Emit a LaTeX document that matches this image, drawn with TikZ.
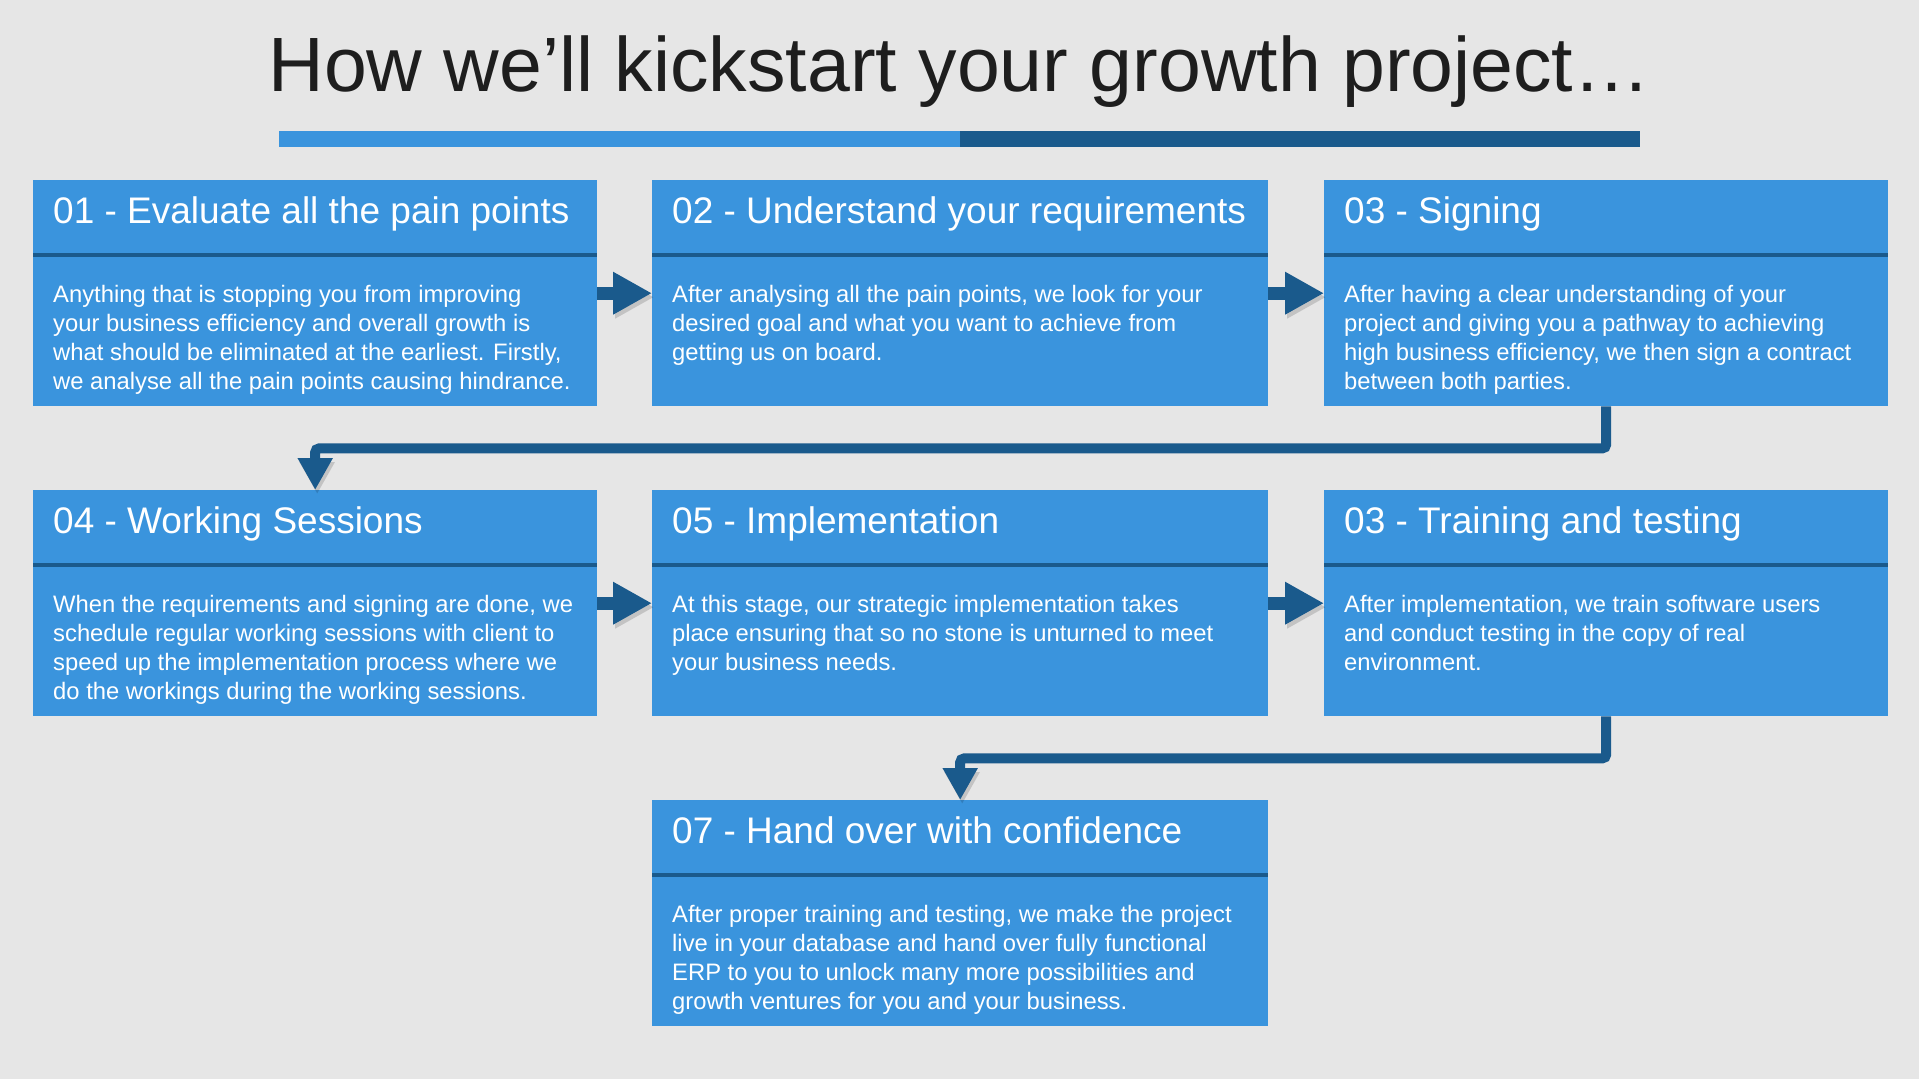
\documentclass[tikz,border=0pt]{standalone}
\usepackage{fontspec}
\setmainfont{Liberation Sans}
\usepackage{tikz}
\usetikzlibrary{arrows.meta}
\usetikzlibrary{positioning}

\definecolor{pagegray}{HTML}{E6E6E6}
\definecolor{cardblue}{HTML}{3A94DD}
\definecolor{deepblue}{HTML}{1A5A8C}
\definecolor{inkgray}{HTML}{1E1E1E}

\tikzset{
card/.style={rectangle, fill=cardblue, inner sep=0pt, minimum height=226pt, anchor=north west},
cardtitle/.style={anchor=base west, inner sep=0pt, text=white, font=\fontsize{37}{40}\selectfont},
cardtext/.style={anchor=base west, inner sep=0pt, text=white, align=left, font=\fontsize{23.8}{29}\selectfont},
divider/.style={deepblue, line width=4.5pt},
shadowed/.style={preaction={draw=black, opacity=0.15, transform canvas={xshift=2pt, yshift=-4pt}}},
nextarrow/.style={deepblue, line width=13pt, -{Triangle[length=39pt,width=40pt]}, shadowed},
downarrow/.style={deepblue, line width=10pt, rounded corners=4pt, -{Triangle[length=32pt,width=33pt]}, shadowed}
}

\begin{document}
\begin{tikzpicture}[x=1pt, y=-1pt]

    \fill[pagegray] (0,0) rectangle (1919,1079);
    \useasboundingbox (0,0) rectangle (1919,1079);

    \node[anchor=base, inner sep=0pt, text=inkgray, font=\fontsize{77}{80}\selectfont] (heading) at (959.5,91) {How we’ll kickstart your growth project…};
    \fill[cardblue] (279,131) rectangle (960,147);
    \fill[deepblue] (960,131) rectangle (1640,147);

    \node[card, minimum width=564pt] (b1) at (33,180) {};
    \node[card, minimum width=616pt] (b2) at (652,180) {};
    \node[card, minimum width=564pt] (b3) at (1324,180) {};
    \node[card, minimum width=564pt] (b4) at (33,490) {};
    \node[card, minimum width=616pt] (b5) at (652,490) {};
    \node[card, minimum width=564pt] (b6) at (1324,490) {};
    \node[card, minimum width=616pt] (b7) at (652,800) {};

    % card titles
    \node[cardtitle] (t1) at ([shift={(20pt,-43pt)}]b1.north west) {01 - Evaluate all the pain points};
    \node[cardtitle] (t2) at ([shift={(20pt,-43pt)}]b2.north west) {02 - Understand your requirements};
    \node[cardtitle] (t3) at ([shift={(20pt,-43pt)}]b3.north west) {03 - Signing};
    \node[cardtitle] (t4) at ([shift={(20pt,-43pt)}]b4.north west) {04 - Working Sessions};
    \node[cardtitle] (t5) at ([shift={(20pt,-43pt)}]b5.north west) {05 - Implementation};
    \node[cardtitle] (t6) at ([shift={(20pt,-43pt)}]b6.north west) {03 - Training and testing};
    \node[cardtitle] (t7) at ([shift={(20pt,-43pt)}]b7.north west) {07 - Hand over with confidence};

    % dividers
    \draw[divider] ([yshift=-75pt]b1.north west) -- ([yshift=-75pt]b1.north east);
    \draw[divider] ([yshift=-75pt]b2.north west) -- ([yshift=-75pt]b2.north east);
    \draw[divider] ([yshift=-75pt]b3.north west) -- ([yshift=-75pt]b3.north east);
    \draw[divider] ([yshift=-75pt]b4.north west) -- ([yshift=-75pt]b4.north east);
    \draw[divider] ([yshift=-75pt]b5.north west) -- ([yshift=-75pt]b5.north east);
    \draw[divider] ([yshift=-75pt]b6.north west) -- ([yshift=-75pt]b6.north east);
    \draw[divider] ([yshift=-75pt]b7.north west) -- ([yshift=-75pt]b7.north east);

    % card texts (anchored on the last line)
    \node[cardtext] (d1) at ([shift={(20pt,-209pt)}]b1.north west) {Anything that is stopping you from improving\\your business efficiency and overall growth is\\what should be eliminated at the earliest. Firstly,\\we analyse all the pain points causing hindrance.};
    \node[cardtext] (d2) at ([shift={(20pt,-180pt)}]b2.north west) {After analysing all the pain points, we look for your\\desired goal and what you want to achieve from\\getting us on board.};
    \node[cardtext] (d3) at ([shift={(20pt,-209pt)}]b3.north west) {After having a clear understanding of your\\project and giving you a pathway to achieving\\high business efficiency, we then sign a contract\\between both parties.};
    \node[cardtext] (d4) at ([shift={(20pt,-209pt)}]b4.north west) {When the requirements and signing are done, we\\schedule regular working sessions with client to\\speed up the implementation process where we\\do the workings during the working sessions.};
    \node[cardtext] (d5) at ([shift={(20pt,-180pt)}]b5.north west) {At this stage, our strategic implementation takes\\place ensuring that so no stone is unturned to meet\\your business needs.};
    \node[cardtext] (d6) at ([shift={(20pt,-180pt)}]b6.north west) {After implementation, we train software users\\and conduct testing in the copy of real\\environment.};
    \node[cardtext] (d7) at ([shift={(20pt,-209pt)}]b7.north west) {After proper training and testing, we make the project\\live in your database and hand over fully functional\\ERP to you to unlock many more possibilities and\\growth ventures for you and your business.};

    % flow
    \draw[nextarrow] (b1.east) -- (b2.west);
    \draw[nextarrow] (b2.east) -- (b3.west);
    \draw[nextarrow] (b4.east) -- (b5.west);
    \draw[nextarrow] (b5.east) -- (b6.west);
    \draw[downarrow] (b3.south) -- ++(0,42) -| (b4.north);
    \draw[downarrow] (b6.south) -- ++(0,42) -| (b7.north);

\end{tikzpicture}
\end{document}
